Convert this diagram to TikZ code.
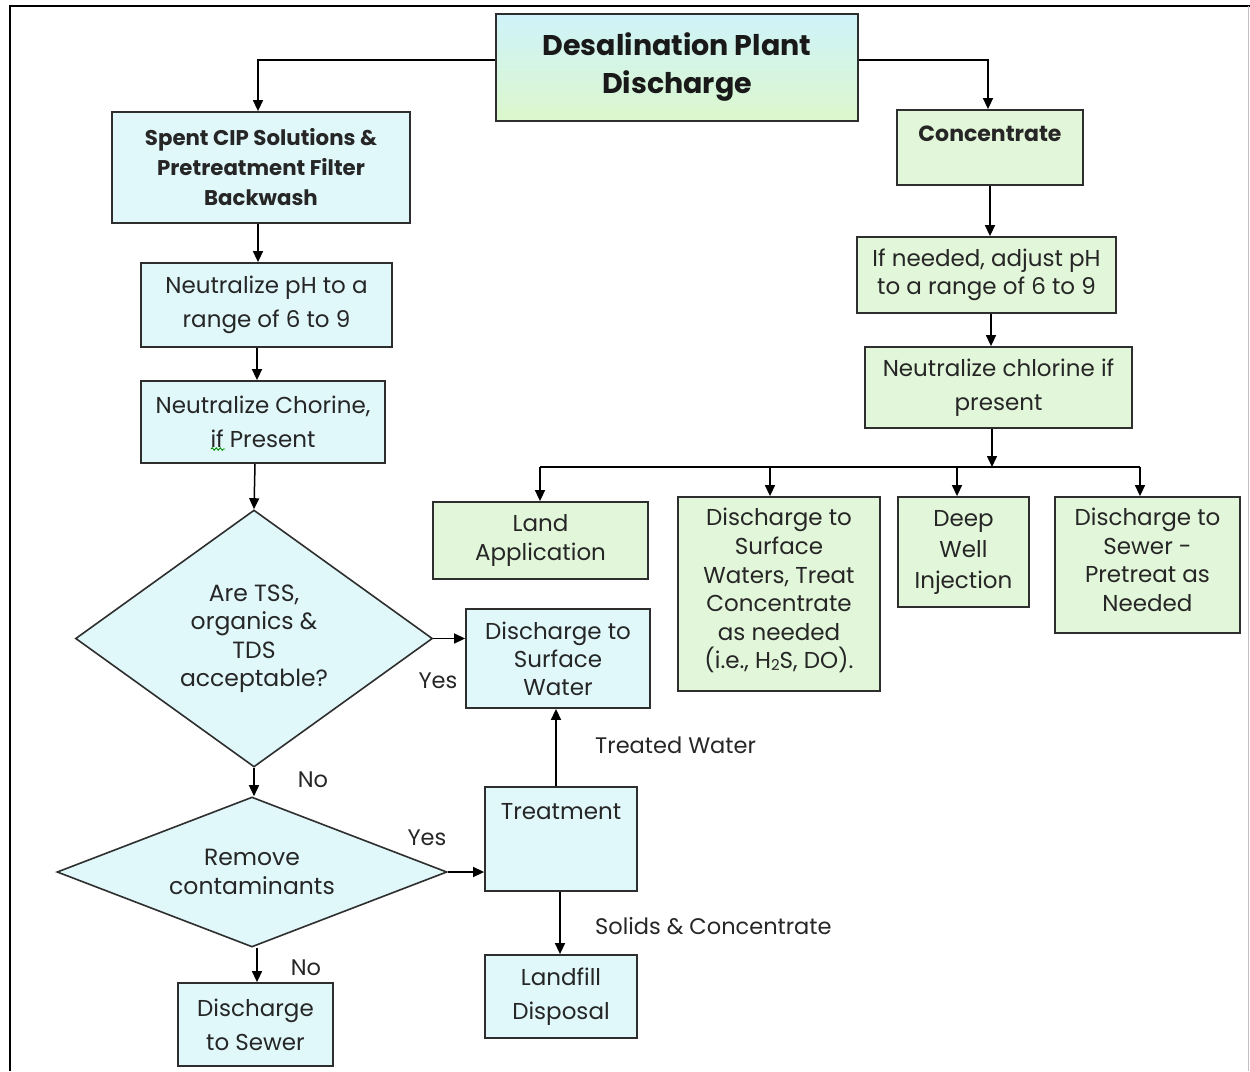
\documentclass[tikz,border=0pt]{standalone}
\usepackage{fontspec}
\setmainfont{Poppins}
\usetikzlibrary{arrows.meta,shapes.geometric,decorations.pathmorphing}
\definecolor{cyanbox}{HTML}{E0F8FA}
\definecolor{greenbox}{HTML}{E2F6D9}
\definecolor{titletop}{HTML}{CFF3FA}
\definecolor{titlebot}{HTML}{DCF7CC}
\definecolor{edge}{HTML}{2E2E2E}
\definecolor{txt}{HTML}{262626}
\tikzset{
  box/.style={draw=edge, line width=1.8pt, rectangle, inner sep=2pt, align=center,
              text=txt, font=\fontsize{23}{34}\selectfont},
  cbox/.style={box, fill=cyanbox},
  gbox/.style={box, fill=greenbox, font=\fontsize{23}{28.6}\selectfont},
  dia/.style={draw=edge, line width=1.6pt, diamond, fill=cyanbox, inner sep=0pt, align=center,
              text=txt, font=\fontsize{23.5}{28.5}\selectfont},
  conn/.style={draw=black, line width=1.5pt, -{Triangle[length=11pt,width=10pt]}},
  plain/.style={draw=black, line width=1.5pt},
  lbl/.style={text=txt, font=\fontsize{22.5}{26}\selectfont, inner sep=0pt},
  intext/.style={text=txt, inner sep=0pt, align=center}
}
\begin{document}
\begin{tikzpicture}[x=1pt,y=-1pt]
\useasboundingbox (0,0) rectangle (1250,1071);
\fill[white] (0,0) rectangle (1250,1071);
% outer frame
\draw[line width=2pt, black] (10,1071) -- (10,6) -- (1250,6);
\draw[line width=0.8pt, black!25] (1248,6) -- (1248,1071);

% title
\node[draw=edge, line width=1.8pt, top color=titletop, bottom color=titlebot,
      minimum width=362pt, minimum height=107pt, align=center, text=black!90,
      font=\fontsize{28.5}{38}\selectfont\bfseries] (title) at (677,67.5) {Desalination Plant\\Discharge};

% left column
\node[cbox, minimum width=298pt, minimum height=111pt, font=\fontsize{21.3}{30}\selectfont\bfseries] (spent) at (261,167.5)
  {Spent CIP Solutions \&\\Pretreatment Filter\\Backwash};
\node[cbox, minimum width=251pt, minimum height=84pt] (ph) at (266.5,305) {Neutralize pH to a\\range of 6 to 9};
\node[cbox, minimum width=244pt, minimum height=82pt] (chor) at (263,422) {Neutralize Chorine,\\if Present};

\node[dia, shape aspect=1.39, minimum width=357pt, minimum height=257pt] (d1) at (254,638.5) {Are TSS,\\organics \&\\TDS\\acceptable?};
\node[cbox, minimum width=184pt, minimum height=99pt, font=\fontsize{23}{28}\selectfont] (dsw) at (558,658.5) {Discharge to\\Surface\\Water};
\node[dia, shape aspect=2.6, minimum width=390pt, minimum height=150pt] (d2) at (252,872) {Remove\\contaminants};
\node[cbox, minimum width=152pt, minimum height=104pt] (treat) at (561,839) {};
\node[intext, font=\fontsize{23}{26}\selectfont] (treattxt) at (561,812) {Treatment};
\node[cbox, minimum width=152pt, minimum height=83pt] (landfill) at (561,996.5) {Landfill\\Disposal};
\node[cbox, minimum width=155pt, minimum height=83pt] (dsewer) at (255.5,1024.5) {Discharge\\to Sewer};

% right column
\node[gbox, minimum width=186pt, minimum height=75pt] (conc) at (990,147.5) {};
\node[intext, font=\fontsize{22}{26}\selectfont\bfseries] (conctxt) at (990,134) {Concentrate};
\node[gbox, minimum width=259pt, minimum height=76pt] (ifneed) at (986.5,275) {If needed, adjust pH\\to a range of 6 to 9};
\node[gbox, minimum width=267pt, minimum height=81pt, font=\fontsize{23}{34}\selectfont] (nchl) at (998.5,387.5) {Neutralize chlorine if\\present};
\node[gbox, minimum width=215pt, minimum height=77pt] (land) at (540.5,540.5) {Land\\Application};
\node[gbox, minimum width=202pt, minimum height=194pt] (dsws) at (779,594) {Discharge to\\Surface\\Waters, Treat\\Concentrate\\as needed\\(i.e., H\raisebox{-2pt}{\fontsize{15}{15}\selectfont 2}S, DO).\\[-18pt]};
\node[gbox, minimum width=131pt, minimum height=110pt, font=\fontsize{23}{31}\selectfont] (deep) at (963.5,552) {Deep\\Well\\Injection};
\node[gbox, minimum width=185pt, minimum height=136pt] (dsp) at (1147.5,565) {Discharge to\\Sewer -\\Pretreat as\\Needed\\[-18pt]};

% spell-check squiggle under "if"
\coordinate (sq1) at (211,449);
\coordinate (sq2) at (225,449);
\draw[green!55!black, line width=0.9pt, decorate, decoration={snake, amplitude=1.2pt, segment length=4pt}]
  (sq1) -- (sq2);

% coordinates for connectors
\coordinate (tl) at (258,60);
\coordinate (tr) at (988,60);
\coordinate (busc) at (992,467);
\coordinate (busl) at (540,467);
\coordinate (busr) at (1140,467);
\coordinate (b1) at (770,467);
\coordinate (b2) at (957,467);

% connectors
\draw[conn] (title.west |- tl) -- (tl) -- (spent.north -| tl);
\draw[conn] (title.east |- tr) -- (tr) -- (conc.north -| tr);
\draw[conn] (spent.south -| 258,0) -- (ph.north -| 258,0);
\draw[conn] (ph.south -| 257,0) -- (chor.north -| 257,0);
\draw[conn] (chor.south -| 255,0) -- (d1.north);
\draw[conn] (d1.east) -- (dsw.west |- d1.east);
\draw[conn] (d1.south) -- (d2.north -| d1.south);
\draw[conn] (d2.east) -- (treat.west |- d2.east);
\draw[conn] (treat.north -| 556,0) -- (dsw.south -| 556,0);
\draw[conn] (treat.south -| 560,0) -- (landfill.north -| 560,0);
\draw[conn] (d2.south -| 257,0) -- (dsewer.north -| 257,0);

\draw[conn] (conc.south -| 990,0) -- (ifneed.north -| 990,0);
\draw[conn] (ifneed.south -| 991,0) -- (nchl.north -| 991,0);
\draw[conn] (nchl.south -| busc) -- (busc);
\draw[plain] (busl) -- (busr);
\draw[conn] (busl) -- (land.north -| busl);
\draw[conn] (b1) -- (dsws.north -| b1);
\draw[conn] (b2) -- (deep.north -| b2);
\draw[conn] (busr) -- (dsp.north -| busr);

% labels
\node[lbl] (yes1) at (438,681) {Yes};
\node[lbl] (no1) at (313,780) {No};
\node[lbl] (yes2) at (427,838) {Yes};
\node[lbl] (no2) at (306,968) {No};
\node[lbl, anchor=west] (tw) at (595,745) {Treated Water};
\node[lbl, anchor=west] (sc) at (595,926) {Solids \& Concentrate};
\end{tikzpicture}
\end{document}
